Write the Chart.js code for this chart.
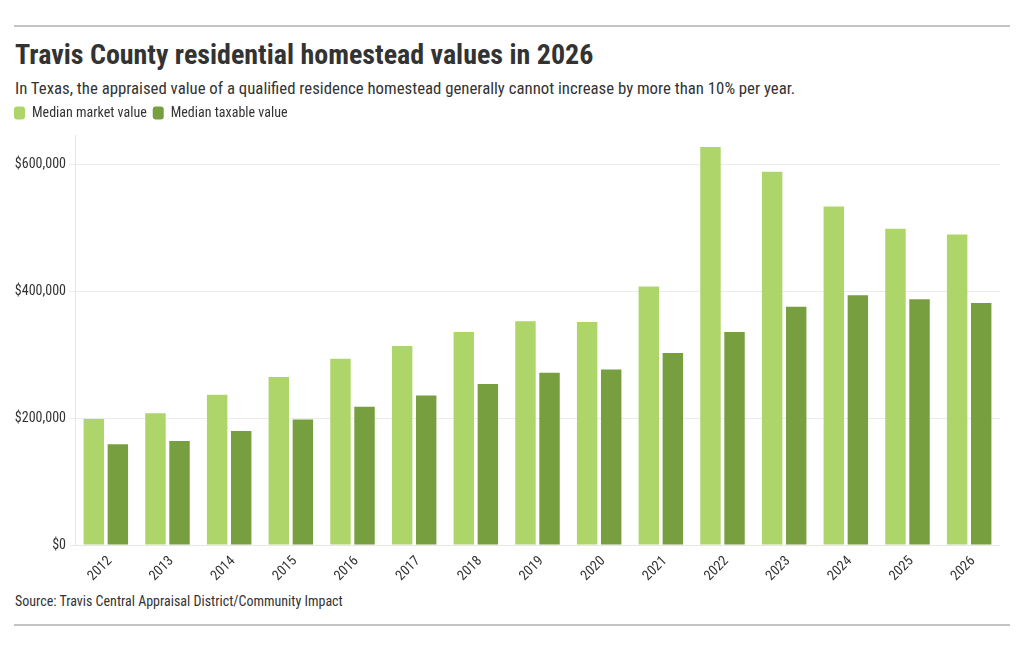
<!DOCTYPE html>
<html>
<head>
<meta charset="utf-8">
<script src="https://cdn.jsdelivr.net/npm/chart.js@4"></script>
<style>
  body { margin: 0; background: #fff; font-family: "Roboto Condensed", "Liberation Sans Narrow", Roboto, sans-serif; color: #333; }
  #wrap { position: relative; width: 1020px; height: 650px; }
  .rule { position: absolute; left: 14px; width: 996px; height: 2px; background: #c4c4c4; }
  #title { position: absolute; left: 15px; top: 38px; font-size: 28px; font-weight: bold; color: #333; white-space: nowrap; }
  #sub { position: absolute; left: 15px; top: 78px; font-size: 16.8px; color: #333; white-space: nowrap; }
  #src { position: absolute; left: 15px; top: 593px; font-size: 14px; color: #333; white-space: nowrap; }
  #box { position: absolute; left: 0; top: 100px; width: 1000px; height: 492px; }
</style>
</head>
<body>
<div id="wrap">
  <div class="rule" style="top:25px"></div>
  <div id="title">Travis County residential homestead values in 2026</div>
  <div id="sub">In Texas, the appraised value of a qualified residence homestead generally cannot increase by more than 10% per year.</div>
  <div id="box"><canvas id="c"></canvas></div>
  <div id="src">Source: Travis Central Appraisal District/Community Impact</div>
  <div class="rule" style="top:624px"></div>
</div>
<script>
// values
var years = ["2012","2013","2014","2015","2016","2017","2018","2019","2020","2021","2022","2023","2024","2025","2026"];
var marketValue = [199000, 208000, 237000, 265000, 294000, 314000, 336000, 353000, 352000, 408000, 628000, 589000, 534000, 499000, 490000];
var taxableValue = [159000, 164000, 180000, 198000, 218000, 236000, 254000, 272000, 277000, 303000, 336000, 376000, 394000, 388000, 382000];
var yTicks = [0, 200000, 400000, 600000];

Chart.defaults.font.family = '"Roboto Condensed", "Liberation Sans Narrow", Roboto, sans-serif';
Chart.defaults.color = '#333';

// fixed legend height so the plot starts where the original does
var legendHeight = {
    id: 'legendHeight',
    beforeInit: function(chart) {
        var fit = chart.legend.fit;
        chart.legend.fit = function() {
            fit.bind(chart.legend)();
            this.height = 35;
        };
    }
};

new Chart(document.getElementById("c"), {
    type: 'bar',
    data: {
        labels: years,
        datasets: [
            { label: "Median market value", data: marketValue, backgroundColor: "#aed56a" },
            { label: "Median taxable value", data: taxableValue, backgroundColor: "#779f3f" }
        ]
    },
    plugins: [legendHeight],
    options: {
        responsive: true,
        maintainAspectRatio: false,
        animation: false,
        layout: { padding: { left: 8, right: 0, top: 0, bottom: 0 } },
        datasets: { bar: { categoryPercentage: 0.78, barPercentage: 0.85 } },
        plugins: {
            tooltip: { enabled: false },
            legend: {
                position: 'top',
                align: 'start',
                labels: {
                    boxWidth: 11, boxHeight: 13, useBorderRadius: true, borderRadius: 3,
                    padding: 6, font: { size: 14 }, color: '#333'
                }
            }
        },
        scales: {
            x: {
                grid: { display: false },
                border: { color: '#e6e6e6' },
                afterFit: function(scale) { scale.height = 47; },
                ticks: { maxRotation: 45, minRotation: 45, padding: 0, labelOffset: 4, font: { size: 14 }, color: '#333' }
            },
            y: {
                min: 0,
                max: 647000,
                border: { color: '#e6e6e6' },
                grid: { color: '#ebebeb', drawTicks: true, tickLength: 6 },
                afterFit: function(scale) { scale.width = 67; },
                afterBuildTicks: function(scale) {
                    scale.ticks = yTicks.map(function(v) { return { value: v }; });
                },
                ticks: {
                    font: { size: 14 }, color: '#333',
                    callback: function(v) { return '$' + v.toLocaleString('en-US'); }
                }
            }
        }
    }
});
</script>
</body>
</html>
